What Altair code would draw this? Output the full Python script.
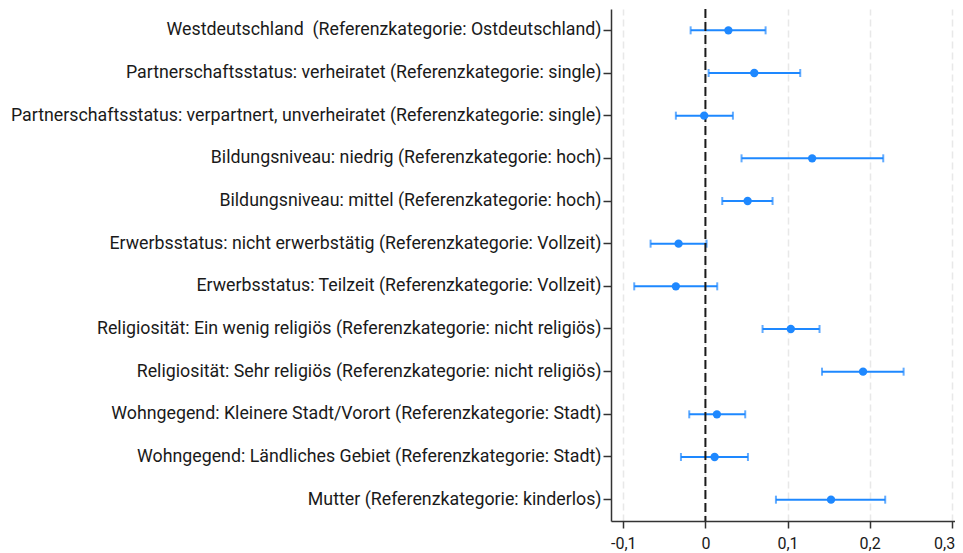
import altair as alt
import pandas as pd

categories = [
    "Westdeutschland  (Referenzkategorie: Ostdeutschland)",
    "Partnerschaftsstatus: verheiratet (Referenzkategorie: single)",
    "Partnerschaftsstatus: verpartnert, unverheiratet (Referenzkategorie: single)",
    "Bildungsniveau: niedrig (Referenzkategorie: hoch)",
    "Bildungsniveau: mittel (Referenzkategorie: hoch)",
    "Erwerbsstatus: nicht erwerbstätig (Referenzkategorie: Vollzeit)",
    "Erwerbsstatus: Teilzeit (Referenzkategorie: Vollzeit)",
    "Religiosität: Ein wenig religiös (Referenzkategorie: nicht religiös)",
    "Religiosität: Sehr religiös (Referenzkategorie: nicht religiös)",
    "Wohngegend: Kleinere Stadt/Vorort (Referenzkategorie: Stadt)",
    "Wohngegend: Ländliches Gebiet (Referenzkategorie: Stadt)",
    "Mutter (Referenzkategorie: kinderlos)",
]
estimate = [0.028, 0.0595, -0.0015, 0.130, 0.0514, -0.0327, -0.036, 0.104, 0.192, 0.014, 0.0112, 0.153]
lower = [-0.018, 0.0039, -0.036, 0.044, 0.0205, -0.0668, -0.0867, 0.0696, 0.142, -0.0197, -0.0298, 0.0859]
upper = [0.0733, 0.1155, 0.0335, 0.2166, 0.0818, 0.0014, 0.0144, 0.139, 0.2414, 0.0485, 0.0518, 0.219]
x_ticks = [-0.1, 0, 0.1, 0.2, 0.3]

df = pd.DataFrame({"cat": categories, "est": estimate, "lo": lower, "hi": upper})

blue = "#1e88ff"
FONT = "Roboto"

xscale = alt.Scale(domain=[-0.115, 0.304], nice=False, zero=False)
yenc = alt.Y("cat:N", sort=categories, title=None,
             axis=alt.Axis(labelLimit=0, labelFontSize=17.8, labelPadding=2,
                           tickSize=8, labelColor="#1a1a1a",
                           labelExpr="replace(datum.label, '  ', ' \u00a0')"))
xaxis = alt.Axis(values=x_ticks, title=None, labelFontSize=16, tickSize=7,
                 labelPadding=7, labelColor="#1a1a1a",
                 labelFlush=4, labelFlushOffset=3,
                 labelExpr="datum.value == 0 ? '0' : replace(replace(format(datum.value, '.1f'), '.', ','), '\u2212', '-')")

base = alt.Chart(df)

bars = base.mark_rule(color=blue, strokeWidth=2).encode(
    x=alt.X("lo:Q", scale=xscale, axis=xaxis), x2="hi:Q", y=yenc)
cap_lo = base.mark_tick(color=blue, thickness=2, size=8, orient="vertical").encode(
    x=alt.X("lo:Q", scale=xscale), y=alt.Y("cat:N", sort=categories))
cap_hi = base.mark_tick(color=blue, thickness=2, size=8, orient="vertical").encode(
    x=alt.X("hi:Q", scale=xscale), y=alt.Y("cat:N", sort=categories))
zero = alt.Chart(pd.DataFrame({"z": [0]})).mark_rule(
    color="#1a1a1a", strokeWidth=2, strokeDash=[9, 4]).encode(x=alt.X("z:Q", scale=xscale))
points = base.mark_circle(color=blue, size=70, opacity=1).encode(
    x=alt.X("est:Q", scale=xscale), y=alt.Y("cat:N", sort=categories))

chart = alt.layer(bars, cap_lo, cap_hi, zero, points).properties(
    width=344, height=512,
    autosize=alt.AutoSizeParams(type="none"),
    padding={"left": 603, "top": 1, "right": 0, "bottom": 32},
).configure_view(stroke=None).configure_axis(
    labelFont=FONT, gridColor="#e8e8e8", gridDash=[7, 4], gridWidth=1.5,
    domainColor="#333333", domainWidth=1.5, tickColor="#333333", tickWidth=1.5,
)

chart.save("out.html", embed_options={"renderer": "svg", "actions": False})
